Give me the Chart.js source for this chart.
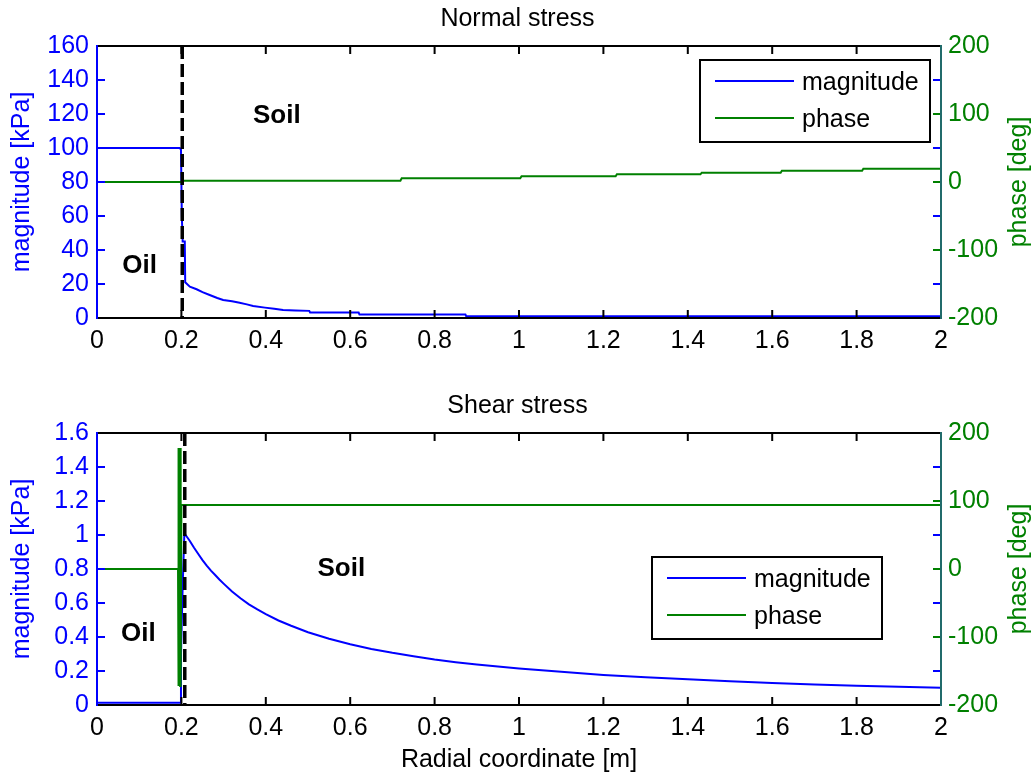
<!DOCTYPE html>
<html>
<head>
<meta charset="utf-8">
<script src="https://cdn.jsdelivr.net/npm/chart.js@4.4.0/dist/chart.umd.min.js"></script>
<style>
html, body { margin: 0; padding: 0; background: #fff; }
#wrap { position: relative; width: 1035px; height: 778px; }
canvas { position: absolute; left: 0; }
</style>
</head>
<body>
<div id="wrap">
  <canvas id="normalChart" width="1035" height="387" style="top:0"></canvas>
  <canvas id="shearChart" width="1035" height="391" style="top:387px"></canvas>
</div>
<script>
// ---- data ----
const xTickValues = [0, 0.2, 0.4, 0.6, 0.8, 1, 1.2, 1.4, 1.6, 1.8, 2];
const normalMagTicks = [0, 20, 40, 60, 80, 100, 120, 140, 160];
const shearMagTicks = [0, 0.2, 0.4, 0.6, 0.8, 1, 1.2, 1.4, 1.6];
const phaseTicks = [-200, -100, 0, 100, 200];

const normalMagX = [0, 0.196, 0.199, 0.201, 0.203, 0.208, 0.209, 0.22, 0.236, 0.25, 0.267, 0.285, 0.299, 0.32, 0.338, 0.355, 0.37, 0.398, 0.42, 0.441, 0.47, 0.503, 0.505, 0.62, 0.622, 0.873, 0.875, 2.0];
const normalMag  = [100, 100, 99, 60, 45, 45, 21, 18.4, 16.9, 15.2, 13.5, 11.8, 10.6, 9.8, 9.0, 8.0, 7.1, 6.1, 5.4, 4.7, 4.4, 4.2, 3.2, 3.2, 2.0, 2.0, 1.0, 1.0];

const normalPhaseX = [0, 0.199, 0.203, 0.719, 0.722, 1.003, 1.006, 1.229, 1.232, 1.43, 1.433, 1.62, 1.623, 1.813, 1.816, 2.0];
const normalPhase  = [0, 0, 1.9, 1.9, 5.4, 5.4, 8.4, 8.4, 11.3, 11.3, 13.7, 13.7, 16.6, 16.6, 19.6, 19.6];

const shearMagX = [0, 0.197, 0.199, 0.203, 0.207, 0.21, 0.22, 0.23, 0.24, 0.25, 0.26, 0.27, 0.28, 0.29, 0.30, 0.32, 0.34, 0.36, 0.38, 0.40, 0.43, 0.46, 0.50, 0.55, 0.60, 0.65, 0.70, 0.75, 0.80, 0.85, 0.90, 0.95, 1.0, 1.1, 1.2, 1.3, 1.4, 1.5, 1.6, 1.7, 1.8, 1.9, 2.0];
const shearMag  = [0.013, 0.013, 0.3, 0.7, 1.01, 1.0, 0.965, 0.925, 0.888, 0.852, 0.82, 0.79, 0.765, 0.738, 0.714, 0.668, 0.628, 0.592, 0.562, 0.535, 0.497, 0.466, 0.428, 0.39, 0.357, 0.33, 0.307, 0.287, 0.268, 0.252, 0.238, 0.226, 0.215, 0.195, 0.177, 0.163, 0.151, 0.139, 0.129, 0.121, 0.113, 0.107, 0.102];

const shearPhaseX = [0, 0.192, 0.1925, 0.193, 0.1935, 0.194, 0.1945, 0.195, 0.1955, 0.196, 0.1965, 0.197, 0.1975, 0.198, 0.1985, 0.199, 0.2, 2.0];
const shearPhase  = [0, 0, 178, -172, 178, -172, 178, -172, 178, -172, 178, -172, 178, -172, 178, -172, 94, 94];

// interface radius (dashed line) and region labels
const normalBoundary = 0.202;
const shearBoundary = 0.208;
const normalRegions = [['Soil', 0.426, 119], ['Oil', 0.101, 30.6]];
const shearRegions = [['Soil', 0.579, 0.803], ['Oil', 0.098, 0.418]];

const FONT = '"Liberation Sans", Arial, sans-serif';
const BLUE = '#0000ff', GREEN = '#008000';

const pts = (xs, ys) => xs.map((x, i) => ({ x: x, y: ys[i] }));
const fmt = v => String(+(+v).toFixed(2));
const setTicks = arr => s => { s.ticks = arr.map(v => ({ value: v })); };

// frame, inward ticks, dashed boundary, region labels, legend box, right ylabel
const decor = {
    id: 'decor',
    afterDatasetsDraw(chart, args, o) {
        const { ctx, chartArea: a, scales } = chart;
        ctx.save();
        // dashed interface line
        const bx = scales.x.getPixelForValue(o.boundary);
        ctx.strokeStyle = '#000';
        ctx.lineWidth = 3.5;
        ctx.setLineDash([13, 5]);
        ctx.beginPath(); ctx.moveTo(bx, a.top); ctx.lineTo(bx, a.bottom); ctx.stroke();
        ctx.setLineDash([]);
        // region labels
        ctx.fillStyle = '#000';
        ctx.font = 'bold 26px ' + FONT;
        ctx.textAlign = 'center'; ctx.textBaseline = 'middle';
        o.regions.forEach(r => {
            ctx.fillText(r[0], scales.x.getPixelForValue(r[1]), scales.y.getPixelForValue(r[2]));
        });
        ctx.restore();
    },
    afterDraw(chart, args, o) {
        const { ctx, chartArea: a, scales } = chart;
        ctx.save();
        ctx.lineWidth = 2;
        // x ticks (bottom and top)
        ctx.strokeStyle = '#000';
        scales.x.ticks.forEach(t => {
            const p = scales.x.getPixelForValue(t.value);
            ctx.beginPath();
            ctx.moveTo(p, a.bottom); ctx.lineTo(p, a.bottom - 8);
            ctx.moveTo(p, a.top); ctx.lineTo(p, a.top + 8);
            ctx.stroke();
        });
        // magnitude ticks on both sides
        ctx.strokeStyle = BLUE;
        scales.y.ticks.forEach(t => {
            const p = scales.y.getPixelForValue(t.value);
            ctx.beginPath();
            ctx.moveTo(a.left, p); ctx.lineTo(a.left + 8, p);
            ctx.moveTo(a.right, p); ctx.lineTo(a.right - 8, p);
            ctx.stroke();
        });
        // phase ticks on the right
        ctx.strokeStyle = GREEN;
        scales.y1.ticks.forEach(t => {
            const p = scales.y1.getPixelForValue(t.value);
            ctx.beginPath(); ctx.moveTo(a.right, p); ctx.lineTo(a.right - 8, p); ctx.stroke();
        });
        // spines
        ctx.strokeStyle = '#000';
        ctx.beginPath();
        ctx.moveTo(a.left, a.top); ctx.lineTo(a.right, a.top);
        ctx.moveTo(a.left, a.bottom); ctx.lineTo(a.right, a.bottom);
        ctx.stroke();
        ctx.strokeStyle = BLUE;
        ctx.beginPath(); ctx.moveTo(a.left, a.top - 1); ctx.lineTo(a.left, a.bottom + 1); ctx.stroke();
        ctx.strokeStyle = '#216b6b';
        ctx.beginPath(); ctx.moveTo(a.right, a.top - 1); ctx.lineTo(a.right, a.bottom + 1); ctx.stroke();

        // legend box
        const w = 230, h = 82;
        const x0 = a.right - o.legendRight - w, y0 = a.top + o.legendTop;
        ctx.fillStyle = '#fff'; ctx.fillRect(x0, y0, w, h);
        ctx.strokeStyle = '#000'; ctx.lineWidth = 2; ctx.strokeRect(x0, y0, w, h);
        ctx.font = '25px ' + FONT;
        ctx.textAlign = 'left'; ctx.textBaseline = 'middle';
        chart.data.datasets.forEach((ds, i) => {
            const y = y0 + 21 + i * 37;
            ctx.strokeStyle = ds.borderColor; ctx.lineWidth = 2;
            ctx.beginPath(); ctx.moveTo(x0 + 15, y); ctx.lineTo(x0 + 94, y); ctx.stroke();
            ctx.fillStyle = '#000';
            ctx.fillText(ds.label, x0 + 102, y + 2);
        });

        // right axis title, read bottom-to-top like the reference
        ctx.fillStyle = GREEN;
        ctx.font = '25px ' + FONT;
        ctx.textAlign = 'center'; ctx.textBaseline = 'middle';
        ctx.translate(scales.y1.right - 16, (a.top + a.bottom) / 2);
        ctx.rotate(-Math.PI / 2);
        ctx.fillText('phase [deg]', 0, 0);
        ctx.restore();
    }
};

function makeChart(id, cfg) {
    const tickFont = { family: FONT, size: 25 };
    return new Chart(document.getElementById(id), {
        type: 'line',
        data: {
            datasets: [
                { label: 'magnitude', data: cfg.mag, yAxisID: 'y', borderColor: BLUE, borderWidth: 2, pointRadius: 0, tension: 0, order: 1 },
                { label: 'phase', data: cfg.phase, yAxisID: 'y1', borderColor: GREEN, borderWidth: 2, pointRadius: 0, tension: 0, order: 0 }
            ]
        },
        options: {
            responsive: false,
            animation: false,
            layout: { padding: 0 },
            plugins: {
                legend: { display: false },
                tooltip: { enabled: false },
                title: { display: true, text: cfg.title, color: '#000', font: { family: FONT, size: 25, weight: 'normal' }, padding: { top: 4, bottom: 12 } },
                decor: { boundary: cfg.boundary, regions: cfg.regions, legendRight: cfg.legendRight, legendTop: cfg.legendTop }
            },
            scales: {
                x: {
                    type: 'linear', position: 'bottom', min: 0, max: 2,
                    afterBuildTicks: setTicks(xTickValues),
                    afterFit: s => { s.height = cfg.xHeight; },
                    grid: { display: false, drawTicks: false }, border: { display: false },
                    ticks: { color: '#000', font: tickFont, padding: 8, autoSkip: false, maxRotation: 0, callback: fmt },
                    title: { display: !!cfg.xTitle, text: cfg.xTitle || '', color: '#000', font: tickFont, padding: { top: 0, bottom: 3 } }
                },
                y: {
                    type: 'linear', position: 'left', min: 0, max: cfg.magMax,
                    afterBuildTicks: setTicks(cfg.magTicks),
                    afterFit: s => { s.width = 97; },
                    grid: { display: false, drawTicks: false }, border: { display: false },
                    ticks: { color: BLUE, font: tickFont, padding: 8, callback: fmt },
                    title: { display: true, text: 'magnitude [kPa]', color: BLUE, font: tickFont, padding: { top: 7, bottom: 0 } }
                },
                y1: {
                    type: 'linear', position: 'right', min: -200, max: 200,
                    afterBuildTicks: setTicks(phaseTicks),
                    afterFit: s => { s.width = 94; },
                    grid: { display: false, drawTicks: false }, border: { display: false },
                    ticks: { color: GREEN, font: tickFont, padding: 7, callback: fmt }
                }
            }
        },
        plugins: [decor]
    });
}

makeChart('normalChart', {
    title: 'Normal stress',
    mag: pts(normalMagX, normalMag), phase: pts(normalPhaseX, normalPhase),
    magMax: 160, magTicks: normalMagTicks,
    boundary: normalBoundary, regions: normalRegions,
    legendRight: 11, legendTop: 14, xHeight: 69
});
makeChart('shearChart', {
    title: 'Shear stress',
    mag: pts(shearMagX, shearMag), phase: pts(shearPhaseX, shearPhase),
    magMax: 1.6, magTicks: shearMagTicks,
    boundary: shearBoundary, regions: shearRegions,
    legendRight: 59, legendTop: 124, xHeight: 73, xTitle: 'Radial coordinate [m]'
});
</script>
</body>
</html>
